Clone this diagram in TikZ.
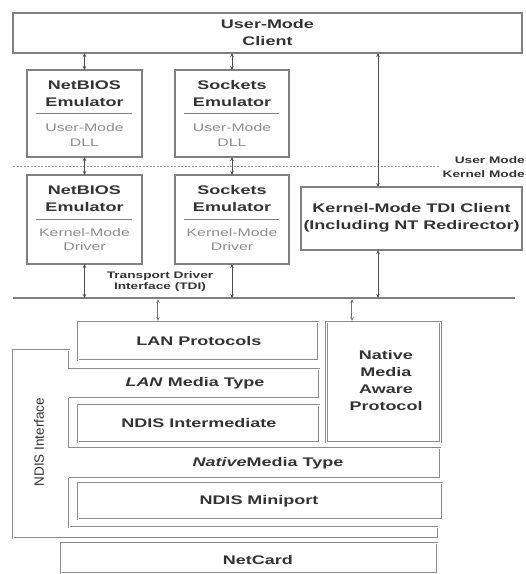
\documentclass[tikz,border=0pt]{standalone}
\usepackage{fontspec}
\setmainfont{Liberation Sans}
\newfontfamily\wide[FakeStretch=1.44]{Liberation Sans}
\usetikzlibrary{arrows.meta,calc}
\tikzset{
  box/.style={draw=black!50, line width=1.1pt, inner sep=0pt, outer sep=0pt},
  lbox/.style={draw=black!45, double=white, double distance=0.9pt, line width=0.6pt, inner sep=0pt, outer sep=0pt},
  lab/.style={font={\wide\bfseries\fontsize{12.5}{17}\selectfont}, text=black!80, align=center, inner sep=0pt},
  sublab/.style={font={\wide\fontsize{11}{14.5}\selectfont}, text=black!45, align=center, inner sep=0pt},
  smalllab/.style={font={\wide\bfseries\fontsize{9.5}{11.5}\selectfont}, text=black!80, align=center, inner sep=0pt},
  biarrow/.style={{Stealth[length=4pt,width=3.5pt]}-{Stealth[length=4pt,width=3.5pt]}, draw=black!70, line width=0.8pt},
  thinarrow/.style={{Stealth[length=4pt,width=3.5pt,open]}-{Stealth[length=4pt,width=3.5pt,open]}, draw=black!55, double=white, double distance=0.8pt, line width=0.4pt, shorten <=1pt, shorten >=1pt},
  divider/.style={draw=black!50, line width=0.9pt},
  stack/.style={draw=black!45, double=white, double distance=0.9pt, line width=0.6pt}
}
\begin{document}
\begin{tikzpicture}[x=1pt, y=-1pt]
\useasboundingbox (0,0) rectangle (526,574);

% User-Mode Client
\node[box, minimum width=509pt, minimum height=40pt] (umc) at (267.5,33) {};
\node[lab] (umct) at (267.5,33) {User-Mode\\Client};

% User-mode emulators
\node[box, minimum width=115pt, minimum height=87pt] (nbu) at (84.5,113.5) {};
\node[lab] (nbut) at (84.5,93.5) {NetBIOS\\Emulator};
\draw[divider] ([xshift=9pt]nbu.west) -- ([xshift=-10pt]nbu.east);
\node[sublab] (nbus) at (84.5,135) {User-Mode\\DLL};

\node[box, minimum width=114pt, minimum height=87pt] (sku) at (232,113.5) {};
\node[lab] (skut) at (232,93.5) {Sockets\\Emulator};
\draw[divider] ([xshift=9pt]sku.west) -- ([xshift=-10pt]sku.east);
\node[sublab] (skus) at (232,135) {User-Mode\\DLL};

% User/Kernel boundary
\coordinate (dl) at (13,166);
\coordinate (dr) at (440,166);
\draw[black!40, line width=0.8pt, dash pattern=on 2pt off 1.5pt] (dl) -- (dr);
\node[smalllab, anchor=east] (um) at (525,160) {User Mode};
\node[smalllab, anchor=east] (km) at (525,174) {Kernel Mode};

% Kernel-mode emulators
\node[box, minimum width=115pt, minimum height=89pt] (nbk) at (84.5,219.5) {};
\node[lab] (nbkt) at (84.5,198.5) {NetBIOS\\Emulator};
\draw[divider] ([xshift=9pt]nbk.west) -- ([xshift=-10pt]nbk.east);
\node[sublab] (nbks) at (84.5,239.5) {Kernel-Mode\\Driver};

\node[box, minimum width=114pt, minimum height=89pt] (skk) at (232,219.5) {};
\node[lab] (skkt) at (232,198.5) {Sockets\\Emulator};
\draw[divider] ([xshift=9pt]skk.west) -- ([xshift=-10pt]skk.east);
\node[sublab] (skks) at (232,239.5) {Kernel-Mode\\Driver};

% Kernel-Mode TDI client
\node[box, minimum width=221pt, minimum height=63pt] (tdic) at (411.5,218.5) {};
\node[lab] (tdict) at (411.5,218) {Kernel-Mode TDI Client\\(Including NT Redirector)};

% TDI line
\coordinate (tdiL) at (13,298);
\coordinate (tdiR) at (515,298);
\draw[black!50, line width=1.1pt] (tdiL) -- (tdiR);
\node[smalllab] (tdil) at (160,281.5) {Transport Driver\\Interface (TDI)};

% arrows upper
\coordinate (ra) at (378,0);
\draw[biarrow] (nbu.north |- umc.south) -- (nbu.north);
\draw[biarrow] (sku.north |- umc.south) -- (sku.north);
\draw[biarrow] (ra |- umc.south) -- (ra |- tdic.north);
\draw[biarrow] (nbu.south) -- (nbk.north);
\draw[biarrow] (sku.south) -- (skk.north);
\draw[biarrow] (nbk.south) -- (nbk.south |- tdiL);
\draw[biarrow] (skk.south) -- (skk.south |- tdiL);
\draw[biarrow] (ra |- tdic.south) -- (ra |- tdiL);

% LAN protocols and native protocol
\node[lbox, minimum width=240pt, minimum height=38pt] (lanp) at (198,341) {};
\node[lab] (lanpt) at (199,341) {LAN Protocols};
\node[lbox, minimum width=114pt, minimum height=120pt] (nmap) at (383.5,382) {};
\node[lab] (nmapt) at (386,381) {Native\\Media\\Aware\\Protocol};
\coordinate (la) at (158,0);
\coordinate (na) at (352,0);
\draw[thinarrow] (la |- tdiL) -- (la |- lanp.north);
\draw[thinarrow] (na |- tdiL) -- (na |- nmap.north);

% NDIS interface outline
\draw[stack] (69,369) -- (69,350) -- (13,350) -- (13,538) -- (438,538) -- (438,527);
\node[font={\fontsize{13.5}{16}\selectfont}, text=black!80, rotate=90, inner sep=0pt] (ndisif) at (39,442) {NDIS Interface};

% LAN Media Type
\draw[stack] (69,369) -- (319,369) -- (319,398) -- (69,398);
\node[lab] (lmt) at (195,383) {\textit{LAN} Media Type};

% NDIS Intermediate frame and box
\draw[stack] (69,398) -- (69,448);
\node[lbox, minimum width=241pt, minimum height=37pt] (ndii) at (198.5,423.5) {};
\node[lab] (ndiit) at (199,423) {NDIS Intermediate};

% NativeMedia Type
\draw[stack] (69,448) -- (440,448) -- (440,478) -- (69,478);
\node[lab] (nmt) at (268,463) {\textit{Native}Media Type};

% NDIS Miniport frame and box
\draw[stack] (69,478) -- (69,527) -- (438,527);
\node[lbox, minimum width=364pt, minimum height=36pt] (ndim) at (260,501) {};
\node[lab] (ndimt) at (259,501) {NDIS Miniport};

% NetCard
\node[lbox, minimum width=376pt, minimum height=30pt] (nc) at (249,558) {};
\node[lab] (nct) at (258,560) {NetCard};
\end{tikzpicture}
\end{document}
